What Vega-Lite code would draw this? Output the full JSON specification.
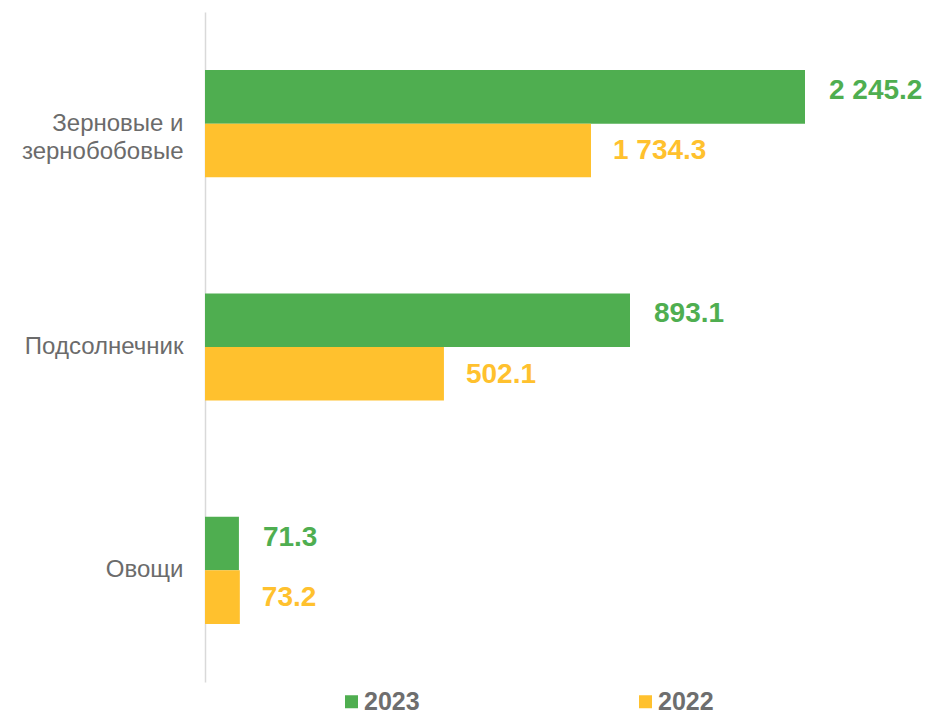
{
  "$schema": "https://vega.github.io/schema/vega-lite/v6.json",
  "width": 728,
  "height": 670,
  "autosize": {"type": "none"},
  "padding": {"left": 205, "top": 12, "right": 0, "bottom": 35},
  "background": "white",
  "config": {
    "view": {"stroke": null},
    "font": "Liberation Sans",
    "locale": {"number": {"decimal": ".", "thousands": " ", "grouping": [3], "currency": ["", ""]}}
  },
  "data": {
    "values": [
      {"category": "Зерновые и|зернобобовые", "year": "2023", "value": 2245.2},
      {"category": "Зерновые и|зернобобовые", "year": "2022", "value": 1734.3},
      {"category": "Подсолнечник", "year": "2023", "value": 893.1},
      {"category": "Подсолнечник", "year": "2022", "value": 502.1},
      {"category": "Овощи", "year": "2023", "value": 71.3},
      {"category": "Овощи", "year": "2022", "value": 73.2}
    ]
  },
  "encoding": {
    "y": {
      "field": "category",
      "type": "nominal",
      "sort": null,
      "scale": {"paddingInner": 0.52, "paddingOuter": 0.26},
      "axis": {
        "title": null,
        "domainColor": "#d9d9d9",
        "domainWidth": 1.5,
        "ticks": false,
        "labelFontSize": 24,
        "labelColor": "#6b6b6b",
        "labelPadding": 22,
        "labelLineHeight": 28,
        "labelLimit": 300,
        "labelExpr": "split(datum.label, '|')"
      }
    },
    "yOffset": {
      "field": "year",
      "type": "nominal",
      "scale": {"domain": ["2023", "2022"], "paddingInner": 0, "paddingOuter": 0}
    },
    "x": {
      "field": "value",
      "type": "quantitative",
      "axis": null,
      "scale": {"domain": [0, 893.1, 1734.3, 2245.2], "range": [0, 425, 386, 600], "nice": false, "zero": false}
    }
  },
  "layer": [
    {
      "mark": {"type": "bar"},
      "encoding": {
        "color": {
          "field": "year",
          "type": "nominal",
          "scale": {"domain": ["2023", "2022"], "range": ["#4FAE50", "#FFC12E"]},
          "legend": {
            "title": null,
            "orient": "none",
            "legendX": 134,
            "legendY": 677,
            "direction": "horizontal",
            "columns": 2,
            "columnPadding": 213,
            "padding": 0,
            "symbolType": "square",
            "symbolSize": 169,
            "symbolStrokeWidth": 0,
            "labelFontSize": 25,
            "labelFontWeight": "bold",
            "labelColor": "#6e6e6e",
            "labelOffset": 0
          }
        }
      }
    },
    {
      "transform": [{"filter": "datum.year === '2023'"}],
      "mark": {"type": "text", "align": "left", "baseline": "middle", "dx": 24, "dy": -6, "fontSize": 28, "fontWeight": "bold", "color": "#4FAE50"},
      "encoding": {"text": {"field": "value", "type": "quantitative", "format": ",.1f"}}
    },
    {
      "transform": [{"filter": "datum.year === '2022'"}],
      "mark": {"type": "text", "align": "left", "baseline": "middle", "dx": 22, "dy": 1, "fontSize": 28, "fontWeight": "bold", "color": "#FFC12E"},
      "encoding": {"text": {"field": "value", "type": "quantitative", "format": ",.1f"}}
    }
  ]
}
